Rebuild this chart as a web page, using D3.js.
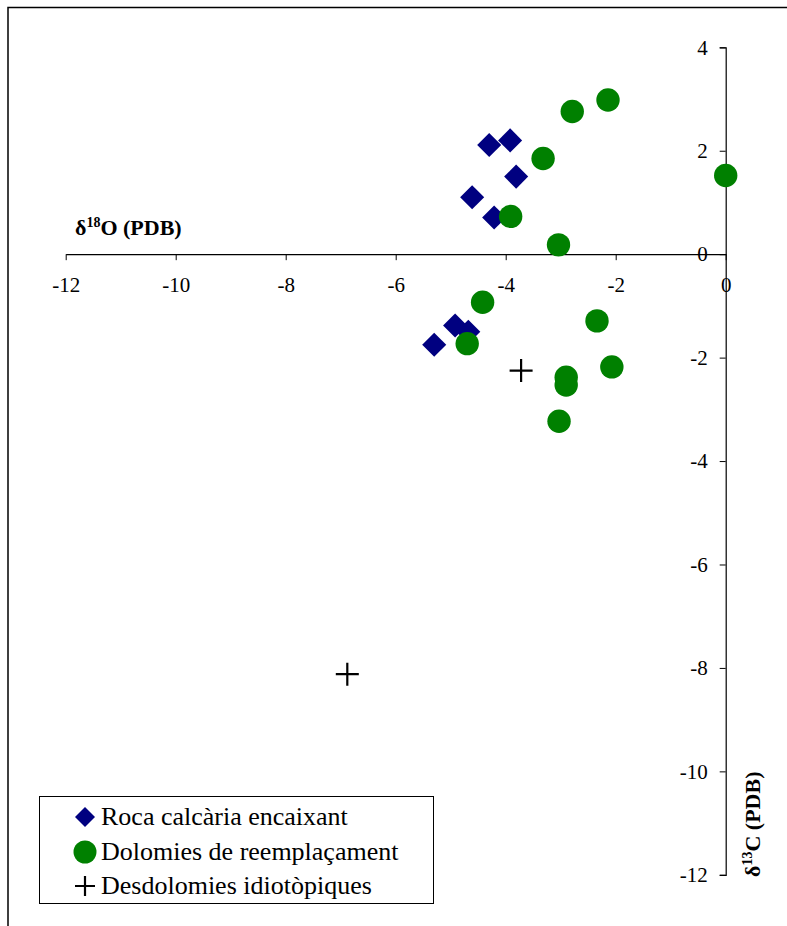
<!DOCTYPE html>
<html><head><meta charset="utf-8">
<script src="https://cdn.jsdelivr.net/npm/d3@7"></script>
<style>body{margin:0;background:#fff}svg{display:block}</style>
</head><body>
<script>
// Data
const rocaX = [-4.30, -3.92, -3.81, -4.61, -4.21, -5.30, -4.92, -4.68];
const rocaY = [2.11, 2.20, 1.50, 1.10, 0.71, -1.75, -1.38, -1.50];
const dolX = [-2.79, -2.14, -3.32, 0.0, -3.91, -3.04, -4.42, -4.70, -2.34, -2.07, -2.90, -2.90, -3.03];
const dolY = [2.76, 2.98, 1.85, 1.52, 0.73, 0.18, -0.93, -1.73, -1.29, -2.18, -2.38, -2.53, -3.23];
const desX = [-3.72, -6.88];
const desY = [-2.25, -8.12];
const xTicks = [-12, -10, -8, -6, -4, -2, 0];
const yTicks = [4, 2, 0, -2, -4, -6, -8, -10, -12];
const seriesNames = ["Roca calcària encaixant", "Dolomies de reemplaçament", "Desdolomies idiotòpiques"];

const W = 787, H = 926;
const FONT = '"Liberation Serif", "Times New Roman", serif';
const svg = d3.select("body").append("svg").attr("width", W).attr("height", H)
  .style("font-family", FONT);

// outer frame
svg.append("rect").attr("x", 8).attr("y", 7.5).attr("width", 820).attr("height", 940)
  .attr("fill", "none").attr("stroke", "#000").attr("stroke-width", 1.5);

const x = d3.scaleLinear().domain([-12, 0]).range([65.7, 725.7]);
const y = d3.scaleLinear().domain([-12, 4]).range([874.8, 47.3]);
const fmt = d => String(d);

// X axis
const gx = svg.append("g").attr("transform", `translate(0,${y(0)})`)
  .call(d3.axisBottom(x).tickValues(xTicks).tickFormat(fmt).tickSize(6).tickPadding(17).tickSizeOuter(0));
gx.attr("font-family", null).attr("font-size", null);
gx.select(".domain").attr("stroke", "#000").attr("stroke-width", 1.2);
gx.selectAll(".tick line").attr("stroke", "#000");
gx.selectAll(".tick text").style("font-family", FONT).style("font-size", "21px").attr("fill", "#000");

// Y axis
const gy = svg.append("g").attr("transform", `translate(${x(0)},0)`)
  .call(d3.axisLeft(y).tickValues(yTicks).tickFormat(fmt).tickSize(6).tickPadding(12).tickSizeOuter(6));
gy.attr("font-family", null).attr("font-size", null);
gy.select(".domain").attr("stroke", "#000").attr("stroke-width", 1.2);
gy.selectAll(".tick line").attr("stroke", "#000");
gy.selectAll(".tick text").style("font-family", FONT).style("font-size", "21px").attr("fill", "#000");

// Axis titles
const tx = svg.append("text").attr("x", 75).attr("y", 235)
  .style("font-family", FONT).style("font-weight", "bold").style("font-size", "22px").attr("fill", "#000");
tx.append("tspan").text("δ");
tx.append("tspan").style("font-size", "14px").attr("dy", -8).text("18");
tx.append("tspan").attr("dy", 8).text("O (PDB)");

const ty = svg.append("text").attr("transform", "translate(760,877) rotate(-90)")
  .style("font-family", FONT).style("font-weight", "bold").style("font-size", "22px").attr("fill", "#000");
ty.append("tspan").text("δ");
ty.append("tspan").style("font-size", "14px").attr("dy", -8).text("13");
ty.append("tspan").attr("dy", 8).text("C (PDB)");

// Marks
const diamond = d3.symbol().type(d3.symbolSquare).size(290);
const circle = d3.symbol().type(d3.symbolCircle).size(430);

svg.append("g").selectAll("path").data(rocaX.map((v, i) => [v, rocaY[i]])).join("path")
  .attr("d", diamond)
  .attr("transform", d => `translate(${x(d[0])},${y(d[1])}) rotate(45)`)
  .attr("fill", "#000080");

svg.append("g").selectAll("path").data(dolX.map((v, i) => [v, dolY[i]])).join("path")
  .attr("d", circle)
  .attr("transform", d => `translate(${x(d[0])},${y(d[1])})`)
  .attr("fill", "#008000");

const plusPath = r => `M${-r},0H${r}M0,${-r}V${r}`;
svg.append("g").selectAll("path").data(desX.map((v, i) => [v, desY[i]])).join("path")
  .attr("d", plusPath(11.5))
  .attr("transform", d => `translate(${x(d[0])},${y(d[1])})`)
  .attr("stroke", "#000").attr("stroke-width", 2.2).attr("fill", "none");

// Legend
svg.append("rect").attr("x", 39.5).attr("y", 796.5).attr("width", 394).attr("height", 107)
  .attr("fill", "#fff").attr("stroke", "#000").attr("stroke-width", 1);
const rowsY = [817, 852, 886];
const lg = svg.append("g");
lg.append("path").attr("d", d3.symbol().type(d3.symbolSquare).size(200))
  .attr("transform", `translate(85,${rowsY[0]}) rotate(45)`).attr("fill", "#000080");
lg.append("path").attr("d", d3.symbol().type(d3.symbolCircle).size(415))
  .attr("transform", `translate(85,${rowsY[1]})`).attr("fill", "#008000");
lg.append("path").attr("d", plusPath(10))
  .attr("transform", `translate(85,${rowsY[2]})`).attr("stroke", "#000").attr("stroke-width", 2.2);
lg.selectAll("text").data(seriesNames).join("text")
  .attr("x", 101).attr("y", (d, i) => rowsY[i] + 8)
  .style("font-family", FONT).style("font-size", "26px").attr("fill", "#000")
  .text(d => d);
</script>
</body></html>
